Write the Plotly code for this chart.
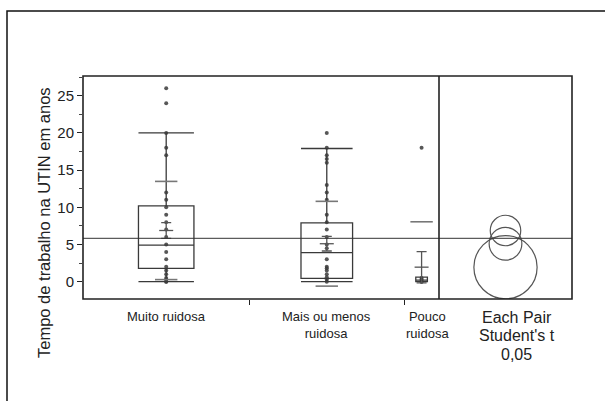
import plotly.graph_objects as go

# ---------------- data ----------------
grupos = ["Muito ruidosa", "Mais ou menos ruidosa", "Pouco ruidosa"]
rotulos = ["Muito ruidosa", "Mais ou menos<br>ruidosa", "Pouco<br>ruidosa"]
n_grupo = [43, 40, 9]

q1 = [1.8, 0.45, 0.0]
mediana = [4.9, 3.9, 0.2]
q3 = [10.2, 7.9, 0.6]
bigode_inf = [0.0, 0.0, 0.0]
bigode_sup = [20.0, 17.9, 0.6]

media = [6.88, 5.1, 1.95]
desvio = [6.6, 5.7, 6.1]
erro_padrao = [1.05, 0.98, 2.1]
raio_ic = [2.05, 2.2, 4.25]
media_geral = 5.83

pontos_muito = [26, 24, 20, 18, 17, 12, 11, 10, 9, 8, 7, 6, 5, 4, 3, 2, 1.5, 1, 0.5, 0.3, 0, 0]
pontos_mais = [20, 18, 17, 16.5, 16, 13, 12, 11, 9, 8, 7, 6, 5, 4.5, 3, 2, 1.8, 1.5, 1, 0.6, 0.3, 0]
pontos_pouco = [18, 0.5, 0.3, 0, 0]
pontos = [pontos_muito, pontos_mais, pontos_pouco]

y_ticks = [0, 5, 10, 15, 20, 25]
y_range = [-2.33, 27.65]

# ---------------- layout constants ----------------
W, H = 605, 401
ML, MR, MT, MB = 83, 33, 76, 102
plot_w = W - ML - MR
plot_h = H - MT - MB
split_px = 439
split = (split_px - ML) / plot_w

# slot positions proportional to n
total = sum(n_grupo)
inicio = [sum(n_grupo[:i]) for i in range(3)]
centro = [inicio[i] + n_grupo[i] / 2 for i in range(3)]
fronteiras = [inicio[1], inicio[2]]

LINE = "#3a3a3a"
PT = "#3a3a3a"

fig = go.Figure()

for i in range(3):
    w = n_grupo[i] / 3
    fig.add_trace(go.Box(
        x=[centro[i]], q1=[q1[i]], median=[mediana[i]], q3=[q3[i]],
        lowerfence=[bigode_inf[i]], upperfence=[bigode_sup[i]],
        width=w, whiskerwidth=1, boxpoints=False,
        fillcolor="rgba(0,0,0,0)", line=dict(color=LINE, width=1.3),
        showlegend=False, hoverinfo="skip", xaxis="x", yaxis="y"))
    # data points
    fig.add_trace(go.Scatter(
        x=[centro[i]] * len(pontos[i]), y=pontos[i], mode="markers",
        marker=dict(size=4, color=PT, opacity=0.85),
        showlegend=False, hoverinfo="skip", xaxis="x", yaxis="y"))
    # mean +/- SE error bar
    fig.add_trace(go.Scatter(
        x=[centro[i]], y=[media[i]], mode="markers",
        marker=dict(symbol="line-ew", size=10, line=dict(color="#555", width=1.3)),
        error_y=dict(type="data", array=[erro_padrao[i]], color="#555",
                     thickness=1.3, width=5),
        showlegend=False, hoverinfo="skip", xaxis="x", yaxis="y"))
    # mean +/- SD lines
    sd_y = [v for v in (media[i] + desvio[i], media[i] - desvio[i]) if v > y_range[0]]
    fig.add_trace(go.Scatter(
        x=[centro[i]] * len(sd_y), y=sd_y, mode="markers",
        marker=dict(symbol="line-ew", size=16, line=dict(color="#777", width=1.6)),
        showlegend=False, hoverinfo="skip", xaxis="x", yaxis="y"))

# invisible trace for x2 axis
fig.add_trace(go.Scatter(x=[0], y=[media_geral], mode="markers",
                         marker=dict(opacity=0), showlegend=False,
                         hoverinfo="skip", xaxis="x2", yaxis="y"))

# x2 range chosen so one year is the same pixel length in x and y
units_per_px = (y_range[1] - y_range[0]) / plot_h
half = (W - MR - split_px) * units_per_px / 2

shapes = []
# comparison circles
for i in range(3):
    shapes.append(dict(type="circle", xref="x2", yref="y",
                       x0=-raio_ic[i], x1=raio_ic[i],
                       y0=media[i] - raio_ic[i], y1=media[i] + raio_ic[i],
                       line=dict(color="#555", width=1.2)))
# grand mean line
shapes.append(dict(type="line", xref="paper", yref="y", x0=0, x1=1,
                   y0=media_geral, y1=media_geral,
                   line=dict(color="#333", width=1)))
# plot frame and divider
shapes.append(dict(type="rect", xref="paper", yref="paper", x0=0, x1=1, y0=0, y1=1,
                   line=dict(color="#222", width=1.6)))
shapes.append(dict(type="line", xref="paper", yref="paper", x0=split, x1=split,
                   y0=0, y1=1, line=dict(color="#222", width=1.6)))
# outer frame of the figure
shapes.append(dict(type="rect", xref="paper", yref="paper",
                   x0=(7 - ML) / plot_w, x1=(W + 10 - ML) / plot_w,
                   y0=-(MB + 10) / plot_h, y1=(H - MB - 11) / plot_h,
                   line=dict(color="#111", width=1.5)))

ann = []
shift_x = [0, 0, 6]
for i in range(3):
    ann.append(dict(x=centro[i], y=0, xref="x", yref="paper", text=rotulos[i],
                    showarrow=False, yanchor="top", yshift=-8, xshift=shift_x[i],
                    font=dict(size=13, color="#222")))
for k, t in enumerate(["Each Pair", "Student's t", "0,05"]):
    ann.append(dict(x=0, y=0, xref="x2", yref="paper", text=t, showarrow=False,
                    yanchor="top", yshift=-8 - 18.3 * k, xshift=11,
                    font=dict(size=16, color="#222")))
ann.append(dict(x=(43.5 - ML) / plot_w, y=(H - MB - 222.5) / plot_h,
                xref="paper", yref="paper", text="Tempo de trabalho na UTIN em anos",
                textangle=-90, showarrow=False, xanchor="center", yanchor="middle",
                font=dict(size=16.5, color="#222")))

fig.update_layout(
    width=W, height=H, margin=dict(l=ML, r=MR, t=MT, b=MB),
    paper_bgcolor="white", plot_bgcolor="white",
    font=dict(family="Liberation Sans, Arial, sans-serif", color="#222"),
    xaxis=dict(domain=[0, split], range=[0, total], tickvals=fronteiras,
               ticktext=["", ""], ticks="outside", ticklen=5, tickwidth=1.3,
               tickcolor="#222", showgrid=False, zeroline=False, showline=False),
    xaxis2=dict(domain=[split, 1], range=[-half, half], anchor="y",
                showticklabels=False, ticks="", showgrid=False, zeroline=False,
                showline=False),
    yaxis=dict(range=y_range, tickvals=y_ticks, ticks="outside", ticklen=5,
               tickwidth=1.3, tickcolor="#222", showgrid=False, zeroline=False,
               showline=False, tickfont=dict(size=15, color="#222"),
               minor=dict(ticks="outside", ticklen=3, tickcolor="#444",
                          dtick=2.5, tick0=0)),
    shapes=shapes, annotations=ann,
)

fig.write_html("out.html", config={"displayModeBar": False},
               post_script="document.body.style.margin='0px';document.body.style.overflow='hidden';")
